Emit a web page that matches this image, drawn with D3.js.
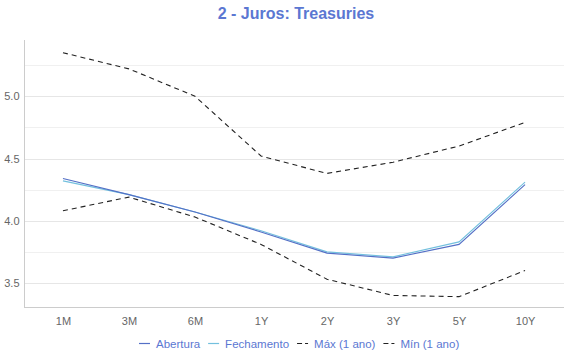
<!DOCTYPE html>
<html><head><meta charset="utf-8">
<script src="https://cdn.jsdelivr.net/npm/d3@7"></script>
<style>body{margin:0;background:#fff;}svg{display:block;font-family:"Liberation Sans",Arial,sans-serif;}</style>
</head><body><svg id="c" width="570" height="360"></svg>
<script>
const categories = ["1M","3M","6M","1Y","2Y","3Y","5Y","10Y"];
const abertura   = [4.34,4.21,4.07,3.91,3.74,3.70,3.81,4.29];
const fechamento = [4.32,4.21,4.07,3.92,3.75,3.71,3.83,4.31];
const maxAno     = [5.35,5.22,5.00,4.52,4.38,4.47,4.60,4.79];
const minAno     = [4.08,4.19,4.03,3.81,3.53,3.40,3.39,3.60];
const yTicks     = [3.5,4.0,4.5,5.0];
const yGrid      = [3.5,3.75,4.0,4.25,4.5,4.75,5.0,5.25];

const series = [
  {name:"Abertura", values:abertura, color:"#5470c6", dash:null},
  {name:"Fechamento", values:fechamento, color:"#73c0de", dash:null},
  {name:"Máx (1 ano)", values:maxAno, color:"#222", dash:"5,4"},
  {name:"Mín (1 ano)", values:minAno, color:"#222", dash:"5,4"}
];

const svg = d3.select("#c");
const mLeft = 24, mRight = 564, mTop = 40, mBottom = 307;
const x = d3.scalePoint().domain(categories).range([mLeft, mRight]).padding(0.59);
const y = d3.scaleLinear().domain([3.307, 5.452]).range([mBottom, mTop]);

// grid
svg.append("g").selectAll("line").data(yGrid).join("line")
  .attr("x1", mLeft).attr("x2", mRight)
  .attr("y1", d => Math.round(y(d))+0.5).attr("y2", d => Math.round(y(d))+0.5)
  .attr("stroke", d => yTicks.includes(d) ? "#e6e6e6" : "#f0f0f0").attr("stroke-width",1);

// y axis
const ya = svg.append("g").attr("transform", `translate(${mLeft+0.5},0)`)
  .call(d3.axisLeft(y).tickValues(yTicks).tickFormat(d3.format(".1f")).tickSize(0).tickPadding(5));
ya.select(".domain").attr("stroke","#ccc").attr("d", `M0,${mTop}V${mBottom}`);
ya.selectAll("text").attr("fill","#666").style("font-size","11px");

// x axis
const xa = svg.append("g").attr("transform", `translate(0,${mBottom+0.5})`)
  .call(d3.axisBottom(x).tickSize(0).tickPadding(10));
xa.select(".domain").attr("stroke","#ccc").attr("d", `M${mLeft},0H${mRight}`);
xa.selectAll("text").attr("fill","#666").style("font-size","11px");

// lines
const line = d3.line().x((d,i)=>x(categories[i])).y(d=>y(d));
svg.append("g").selectAll("path").data(series.slice().reverse()).join("path")
  .attr("d", d => line(d.values)).attr("fill","none")
  .attr("stroke", d => d.color).attr("stroke-width",1.1)
  .attr("stroke-dasharray", d => d.dash);

// title
svg.append("text").attr("x", 296).attr("y", 19).attr("text-anchor","middle")
  .attr("fill","#5b77d2").style("font-size","16px").style("font-weight","bold")
  .text("2 - Juros: Treasuries");

// legend
const lg = svg.append("g");
let lx = 139;
series.forEach((s,i) => {
  const g = lg.append("g").attr("transform", `translate(${lx},343.5)`);
  g.append("line").attr("x1",0).attr("x2",11).attr("stroke",s.color).attr("stroke-width",1.2)
    .attr("stroke-dasharray", s.dash ? "5,3" : null);
  const t = g.append("text").attr("x",17).attr("y",4).attr("fill","#5b77d2").style("font-size","11.5px").text(s.name);
  lx += 17 + t.node().getComputedTextLength() + 8;
});
</script></body></html>
